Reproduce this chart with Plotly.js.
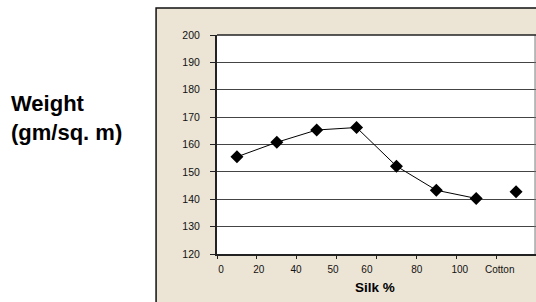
<!DOCTYPE html>
<html>
<head>
<meta charset="utf-8">
<script src="https://cdn.plot.ly/plotly-3.0.1.min.js"></script>
<style>html,body{margin:0;padding:0;background:#fff;}#chart{width:536px;height:302px;}</style>
</head>
<body>
<div id="chart"></div>
<script>
// Data
var silkIndex = [0, 1, 2, 3, 4, 5, 6];
var silkWeight = [155.5, 160.8, 165.3, 166.2, 152.1, 143.3, 140.3];
var cottonIndex = [7];
var cottonWeight = [142.7];
var tickLabels = ['0', '20', '40', '50', '60', '80', '100', 'Cotton'];
var yTicks = [120, 130, 140, 150, 160, 170, 180, 190, 200];

// Layout helpers (label placement along category axis)
var labelPos = [-0.4, 0.55, 1.48, 2.41, 3.26, 4.51, 5.59, 6.59];
var boundaries = [-0.5, 0.5, 1.5, 2.5, 3.5, 4.5, 5.5, 6.5, 7.5];
var FONT = 'Arial, "Liberation Sans", sans-serif';
var BEIGE = '#ECE4D4';

var traces = [
  {
    x: silkIndex, y: silkWeight, type: 'scatter', mode: 'lines+markers',
    line: {color: '#000', width: 1},
    marker: {symbol: 'diamond', size: 10, color: '#000'},
    xaxis: 'x', yaxis: 'y', hoverinfo: 'none'
  },
  {
    x: cottonIndex, y: cottonWeight, type: 'scatter', mode: 'markers',
    marker: {symbol: 'diamond', size: 10, color: '#000'},
    xaxis: 'x2', yaxis: 'y', hoverinfo: 'none'
  }
];

var layout = {
  width: 536, height: 302,
  margin: {l: 217, r: 0, t: 35, b: 48, pad: 0},
  paper_bgcolor: '#ffffff', plot_bgcolor: '#ffffff',
  showlegend: false,
  font: {family: FONT, color: '#000', size: 10},
  xaxis: {
    range: [-0.5, 7.5], tickmode: 'array', tickvals: labelPos, ticktext: tickLabels,
    ticks: '', showgrid: false, zeroline: false,
    showline: true, linecolor: '#222', linewidth: 2, mirror: false,
    tickfont: {family: FONT, size: 10, color: '#111'},
    ticklabelstandoff: 5, fixedrange: true
  },
  xaxis2: {
    overlaying: 'x', anchor: 'y', side: 'bottom',
    range: [-0.5, 7.5], tickmode: 'array', tickvals: boundaries,
    ticks: 'outside', ticklen: 4, tickwidth: 1, tickcolor: '#222',
    showticklabels: false, showgrid: false, zeroline: false, showline: false, fixedrange: true
  },
  yaxis: {
    range: [120, 200], tickmode: 'array', tickvals: yTicks,
    ticks: 'outside', ticklen: 5, tickwidth: 1, tickcolor: '#222',
    showgrid: true, gridcolor: '#444', gridwidth: 1, zeroline: false,
    showline: true, linecolor: '#222', linewidth: 2, mirror: false,
    tickfont: {family: FONT, size: 10.5, color: '#111'},
    ticklabelstandoff: 8, fixedrange: true
  },
  shapes: [
    // beige chart box: bands around the white plot area
    {type: 'rect', xref: 'paper', yref: 'paper', x0: -0.191, x1: 0, y0: -0.25, y1: 1.123,
     fillcolor: BEIGE, line: {width: 0}, layer: 'below'},
    {type: 'rect', xref: 'paper', yref: 'paper', x0: -0.191, x1: 1.05, y0: 1, y1: 1.123,
     fillcolor: BEIGE, line: {width: 0}, layer: 'below'},
    {type: 'rect', xref: 'paper', yref: 'paper', x0: -0.191, x1: 1.05, y0: -0.25, y1: 0,
     fillcolor: BEIGE, line: {width: 0}, layer: 'below'},
    {type: 'rect', xref: 'paper', yref: 'paper', x0: -0.191, x1: 1.05, y0: -0.25, y1: 1.123,
     line: {color: '#111', width: 1.5}, layer: 'above'},
    {type: 'line', xref: 'paper', yref: 'paper', x0: 0.997, x1: 0.997, y0: 0, y1: 1,
     line: {color: '#777', width: 1}, layer: 'above'},
    {type: 'line', xref: 'paper', yref: 'paper', x0: 0, x1: 1, y0: 1, y1: 1,
     line: {color: '#222', width: 1.5}, layer: 'above'}
  ],
  annotations: [
    {text: '<b>Weight<br>(gm/sq. m)</b>', xref: 'paper', yref: 'paper',
     x: -0.652, y: 0.62, xanchor: 'left', yanchor: 'middle', align: 'left', showarrow: false,
     font: {family: FONT, size: 22, color: '#000'}},
    {text: '<b>Silk %</b>', xref: 'paper', yref: 'paper',
     x: 0.495, y: -0.155, xanchor: 'center', yanchor: 'middle', showarrow: false,
     font: {family: FONT, size: 13.5, color: '#000'}}
  ]
};

Plotly.newPlot('chart', traces, layout, {displayModeBar: false, staticPlot: true});
</script>
</body>
</html>
